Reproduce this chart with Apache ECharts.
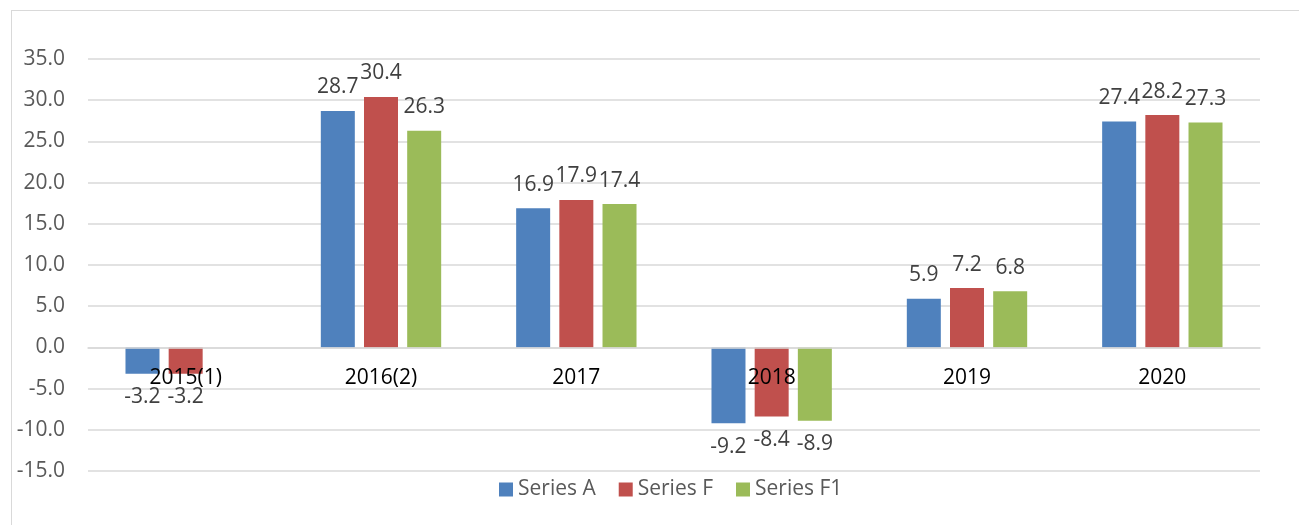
<!DOCTYPE html>
<html>
<head>
<meta charset="utf-8">
<script src="https://cdn.jsdelivr.net/npm/echarts@6/dist/echarts.min.js"></script>
<style>
  body { margin: 0; background: #fff; }
  #frame { position: absolute; left: 11px; top: 10px; width: 1300px; height: 540px; border: 1px solid #d9d9d9; }
  #chart { position: absolute; left: 0; top: 0; width: 1299px; height: 525px; }
</style>
</head>
<body>
<div id="frame"></div>
<div id="chart"></div>
<script>
var categories = ["2015(1)", "2016(2)", "2017", "2018", "2019", "2020"];
var seriesNames = ["Series A", "Series F", "Series F1"];
var seriesA = [-3.2, 28.7, 16.9, -9.2, 5.9, 27.4];
var seriesF = [-3.2, 30.4, 17.9, -8.4, 7.2, 28.2];
var seriesF1 = [null, 26.3, 17.4, -8.9, 6.8, 27.3];
var colors = ["#4F81BD", "#C0504D", "#9BBB59"];

var fontName = "Open Sans";
var fontSize = 21;
var yMin = -15, yMax = 35;
var gridTop = 59, gridBottom = 54, chartHeight = 525;

// negative bars get their label below the bar, like the original
function toItems(values) {
    return values.map(function (v) {
        if (v === null) return '-';
        return { value: v, label: { position: v < 0 ? 'bottom' : 'top' } };
    });
}

function makeSeries(name, values, color) {
    return {
        name: name,
        type: 'bar',
        z: 2,
        data: toItems(values),
        barWidth: 34,
        barGap: '27%',
        itemStyle: { color: color },
        label: {
            show: true,
            distance: 13,
            color: '#404040',
            fontFamily: fontName,
            fontSize: fontSize,
            formatter: function (p) { return p.value.toFixed(1); }
        }
    };
}

// category labels sit on the zero line, so lift the x axis up to it
var plotHeight = chartHeight - gridTop - gridBottom;
var zeroOffset = -plotHeight * (0 - yMin) / (yMax - yMin);

var chart = echarts.init(document.getElementById('chart'));

var option = {
    animation: false,
    color: colors,
    legend: {
        bottom: 20,
        left: 494,
        icon: 'rect',
        itemWidth: 14,
        itemHeight: 14,
        itemGap: 23,
        textStyle: { color: '#595959', fontFamily: fontName, fontSize: fontSize },
        data: seriesNames
    },
    grid: { left: 88, right: 39, top: gridTop, bottom: gridBottom },
    xAxis: {
        type: 'category',
        data: categories,
        offset: zeroOffset,
        z: 5,
        axisLine: { onZero: false, lineStyle: { color: '#d9d9d9', width: 1.5 } },
        axisTick: { show: false },
        axisLabel: { color: '#000', fontFamily: fontName, fontSize: fontSize, margin: 20 }
    },
    yAxis: {
        type: 'value',
        min: yMin,
        max: yMax,
        interval: 5,
        axisLine: { show: false },
        axisTick: { show: false },
        splitLine: { lineStyle: { color: '#d9d9d9', width: 1.5 } },
        axisLabel: {
            color: '#595959', fontFamily: fontName, fontSize: fontSize, margin: 23,
            formatter: function (v) { return v.toFixed(1); }
        }
    },
    series: [
        makeSeries(seriesNames[0], seriesA, colors[0]),
        makeSeries(seriesNames[1], seriesF, colors[1]),
        makeSeries(seriesNames[2], seriesF1, colors[2])
    ]
};

chart.setOption(option);
</script>
</body>
</html>
